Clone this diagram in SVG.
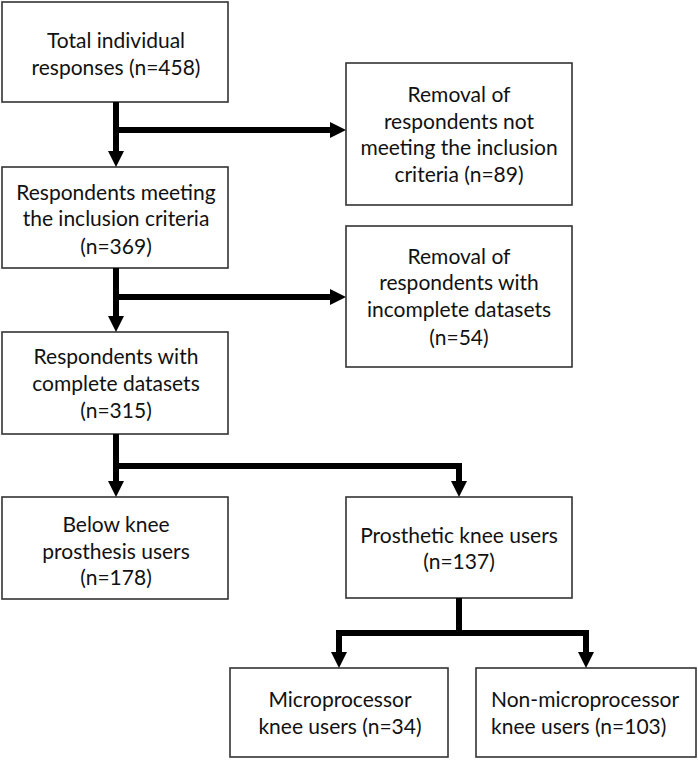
<svg xmlns="http://www.w3.org/2000/svg" width="698" height="761" viewBox="0 0 698 761">
<style>
.box{fill:#fff;stroke:#333;stroke-width:1.6}
.t{font-family:Lato,"Open Sans","Liberation Sans",sans-serif;font-size:21px;fill:#111;text-anchor:middle}
.tl{text-anchor:start}
.c{fill:none;stroke:#000;stroke-width:6;stroke-linejoin:miter}
</style>
<defs>
<marker id="ah" markerUnits="userSpaceOnUse" markerWidth="16" markerHeight="17" refX="0" refY="8" orient="auto" overflow="visible">
<path d="M0,0 L16,8 L0,16 z" fill="#000"/>
</marker>
</defs>
<rect width="698" height="761" fill="#fff"/>
<g id="n1"><rect class="box" x="2" y="2" width="226" height="100"/>
<text class="t" x="116" y="48">Total individual</text>
<text class="t" x="116" y="75">responses (n=458)</text></g>
<g id="n2"><rect class="box" x="346" y="63" width="226" height="142"/>
<text class="t" x="459" y="102">Removal of</text>
<text class="t" x="459" y="129">respondents not</text>
<text class="t" x="459" y="155">meeting the inclusion</text>
<text class="t" x="459" y="182">criteria (n=89)</text></g>
<g id="n3"><rect class="box" x="2" y="167" width="226" height="101"/>
<text class="t" x="116" y="200">Respondents meeting</text>
<text class="t" x="116" y="226">the inclusion criteria</text>
<text class="t" x="116" y="254">(n=369)</text></g>
<g id="n4"><rect class="box" x="346" y="226" width="226" height="141"/>
<text class="t" x="459" y="264">Removal of</text>
<text class="t" x="459" y="290">respondents with</text>
<text class="t" x="459" y="317">incomplete datasets</text>
<text class="t" x="459" y="345">(n=54)</text></g>
<g id="n5"><rect class="box" x="2" y="332" width="226" height="102"/>
<text class="t" x="116" y="364">Respondents with</text>
<text class="t" x="116" y="391">complete datasets</text>
<text class="t" x="116" y="418">(n=315)</text></g>
<g id="n6"><rect class="box" x="2" y="497" width="226" height="102"/>
<text class="t" x="116" y="532">Below knee</text>
<text class="t" x="116" y="559">prosthesis users</text>
<text class="t" x="116" y="585">(n=178)</text></g>
<g id="n7"><rect class="box" x="346" y="497" width="226" height="101"/>
<text class="t" x="459" y="543">Prosthetic knee users</text>
<text class="t" x="459" y="569">(n=137)</text></g>
<g id="n8"><rect class="box" x="230" y="668" width="218" height="89"/>
<text class="t" x="340" y="707">Microprocessor</text>
<text class="t" x="340" y="734">knee users (n=34)</text></g>
<g id="n9"><rect class="box" x="476" y="668" width="220" height="89"/>
<text class="t tl" x="491" y="707">Non-microprocessor</text>
<text class="t tl" x="491" y="734">knee users (n=103)</text></g>
<g id="connectors">
<path class="c" d="M116,102 V151" marker-end="url(#ah)"/>
<path class="c" d="M113,130 H330" marker-end="url(#ah)"/>
<path class="c" d="M116,268 V316" marker-end="url(#ah)"/>
<path class="c" d="M113,297 H330" marker-end="url(#ah)"/>
<path class="c" d="M116,434 V481" marker-end="url(#ah)"/>
<path class="c" d="M113,466 H459 V481" marker-end="url(#ah)"/>
<path class="c" d="M459,598 V633"/>
<path class="c" d="M462,633 H339 V652" marker-end="url(#ah)"/>
<path class="c" d="M456,633 H586 V652" marker-end="url(#ah)"/>
</g>
</svg>
